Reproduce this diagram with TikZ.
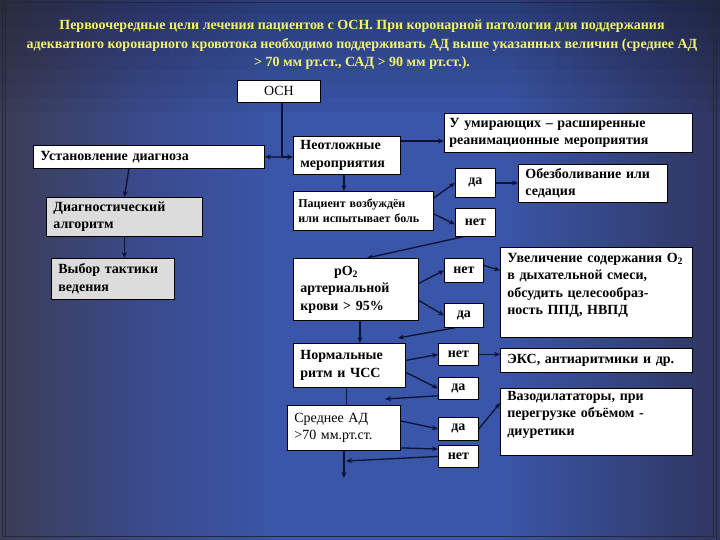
\documentclass[tikz,border=0pt]{standalone}
\usepackage{fontspec}
\setmainfont{Liberation Serif}
\usetikzlibrary{arrows.meta, positioning}
\definecolor{slidedark}{HTML}{3B3D55}
\definecolor{slidemid}{HTML}{3A4A8C}
\definecolor{slideblue}{HTML}{3A56A8}
\definecolor{slideright}{HTML}{2F3660}
\definecolor{framedark}{HTML}{24263A}
\definecolor{titleyellow}{HTML}{F4F46A}
\definecolor{arrowblue}{HTML}{0B1236}
\definecolor{greybox}{HTML}{DCDCDC}
\pgfdeclarehorizontalshading{slidebg}{100bp}{color(0bp)=(slidedark); color(25bp)=(slidedark);
  color(35bp)=(slidemid); color(44bp)=(slideblue); color(60bp)=(slideblue);
  color(75bp)=(slideright); color(100bp)=(slideright)}

\begin{document}
\begin{tikzpicture}[
    x=1pt, y=-1pt,
    font=\bfseries\fontsize{14}{17.5}\selectfont,
    ph/.style={draw=black, line width=0.8pt, fill=white, anchor=north west, align=left, inner xsep=7pt, inner ysep=1pt},
    yn/.style={draw=black, line width=0.8pt, fill=white, anchor=north west, align=center, inner sep=0pt, minimum width=40pt},
    arr/.style={-{Stealth[length=6pt, width=5pt]}, line width=1.3pt, arrowblue},
    ln/.style={line width=1.3pt, arrowblue}
  ]
    % slide background
    \useasboundingbox (0,0) rectangle (720,540);
    \shade[shading=slidebg] (0,0) rectangle (720,540);
    \foreach \i in {1,...,8}
      \fill[black, opacity=0.035] (0,0) rectangle (720,14*\i);
    \draw[framedark, line width=1pt] (2.5,2.5) rectangle (713.5,536.5);
    \draw[framedark, line width=1pt] (5.5,5.5) -- (5.5,536.5);
    \draw[framedark, line width=1pt] (716.5,0) -- (716.5,540);

    \node[titleyellow, align=center, font=\bfseries\fontsize{14}{18.5}\selectfont] (title) at (362,45)
      {Первоочередные цели лечения пациентов с ОСН. При коронарной патологии для поддержания\\
       адекватного коронарного кровотока необходимо поддерживать АД выше указанных величин (среднее АД\\
       > 70 мм рт.ст., САД > 90 мм рт.ст.).};

    % left branch
    \node[yn, minimum width=83pt, minimum height=22pt, font=\fontsize{14}{16}\selectfont] (osn) at (237,80) {ОСН};
    \node[ph, text width=217pt, minimum height=23pt] (diag) at (33,145) {Установление диагноза};
    \node[ph, fill=greybox, text width=142pt, minimum height=39pt] (alg) at (46,197) {Диагностический\\алгоритм};
    \node[ph, fill=greybox, text width=109pt, minimum height=41pt] (tact) at (51,258) {Выбор тактики\\ведения};

    % right branch
    \node[ph, text width=93pt, minimum height=38pt] (urg) at (293,136) {Неотложные\\мероприятия};
    \node[ph, inner xsep=5pt, text width=238pt, minimum height=39pt] (dying) at (444,113) {У умирающих – расширенные\\реанимационные мероприятия};
    \node[ph, inner xsep=5pt, text width=130pt, minimum height=39pt, font=\bfseries\fontsize{12}{15}\selectfont] (pat) at (293,191) {Пациент возбуждён\\или испытывает боль};
    \node[yn, minimum height=29pt] (yes1) at (455,168) {да};
    \node[yn, minimum height=28pt] (no1) at (455,208) {нет};
    \node[ph, text width=135pt, minimum height=38pt] (anal) at (518,164) {Обезболивание или\\седация};

    \node[ph, text width=111pt, minimum height=62pt] (po) at (293,258) {\hspace*{2.4em}pO\textsubscript{2}\\артериальной\\крови > 95\%};
    \node[yn, minimum width=39pt, minimum height=24pt] (no2) at (444,258) {нет};
    \node[yn, minimum width=39pt, minimum height=24pt] (yes2) at (444,303) {да};
    \node[ph, text width=178pt, minimum height=90pt] (oxy) at (500,247) {Увеличение содержания O\textsubscript{2}\\в дыхательной смеси,\\обсудить целесообраз-\\ность ППД, НВПД\\ \mbox{}};

    \node[ph, text width=98pt, minimum height=44pt] (norm) at (293,343) {Нормальные\\ритм и ЧСС};
    \node[yn, minimum height=22pt] (no3) at (438,343) {нет};
    \node[ph, text width=178pt, minimum height=24pt] (eks) at (500,348) {ЭКС, антиаритмики и др.};
    \node[yn, minimum height=22pt] (yes3) at (438,377) {да};
    \node[ph, text width=178pt, minimum height=67pt] (vaso) at (500,388) {Вазодилататоры, при\\перегрузке объёмом -\\диуретики\\ \mbox{}};

    \node[ph, text width=99pt, minimum height=45pt, font=\fontsize{14}{17.5}\selectfont] (mean) at (287,405) {Среднее АД\\>70 мм.рт.ст.};
    \node[yn, minimum height=23pt] (yes4) at (438,417) {да};
    \node[yn, minimum height=22pt] (no4) at (438,445) {нет};

    \coordinate (split) at (282,157);
    \coordinate (back2) at (398,338);
    \coordinate (back3) at (385,399);
    \coordinate (back4) at (346,461);
    \coordinate (exit) at (343,478);

    \draw[ln] (osn.south -| split) -- (split);
    \draw[arr] (split) -- (diag.east);
    \draw[arr] (split) -- (urg.west |- split);
    \draw[arr] ([xshift=-20pt]diag.south) -- (alg.north);
    \draw[arr] (alg.south) -- (alg.south |- tact.north);

    \draw[arr] ([yshift=-5pt]urg.north east) -- ([yshift=-5pt]urg.north east -| dying.west);
    \draw[arr] ([xshift=-3pt]urg.south) -- ([xshift=-3pt]urg.south |- pat.north);
    \draw[arr] ([yshift=13pt]pat.east) -- (yes1.west);
    \draw[arr] ([yshift=-3pt]pat.east) -- ([yshift=-2pt]no1.west);
    \draw[arr] (yes1.east) -- (yes1.east -| anal.west);
    \draw[arr] ([xshift=8pt]no1.south west) -- ([xshift=74pt]po.north west);

    \draw[arr] ([yshift=6pt]po.east) -- (no2.west);
    \draw[arr] ([yshift=-11pt]po.east) -- (yes2.west);
    \draw[arr] ([yshift=5pt]no2.east) -- (no2.east -| oxy.west);
    \draw[arr] ([xshift=11pt]yes2.south west) -- (back2);
    \draw[arr] ([xshift=4pt]po.south) -- ([xshift=4pt]po.south |- norm.north);

    \draw[arr] ([yshift=5pt]norm.east) -- (no3.west);
    \draw[arr] ([yshift=-7pt]norm.east) -- (yes3.west);
    \draw[arr] (no3.east) -- (no3.east -| eks.west);
    \draw[arr] ([yshift=4pt]yes3.south west) -- (back3);
    \draw[ln] ([xshift=-3pt]norm.south) -- ([xshift=-3pt]norm.south |- mean.north);

    \draw[arr] ([yshift=7pt]mean.east) -- (yes4.west);
    \draw[arr] ([yshift=-20pt]mean.east) -- ([yshift=-4pt]no4.north west);
    \draw[arr] (yes4.east) -- ([yshift=-15pt]vaso.north west);
    \draw[arr] (no4.west) -- (back4);
    \draw[arr] (mean.south) -- (mean.south |- exit);
  \end{tikzpicture}
\end{document}
